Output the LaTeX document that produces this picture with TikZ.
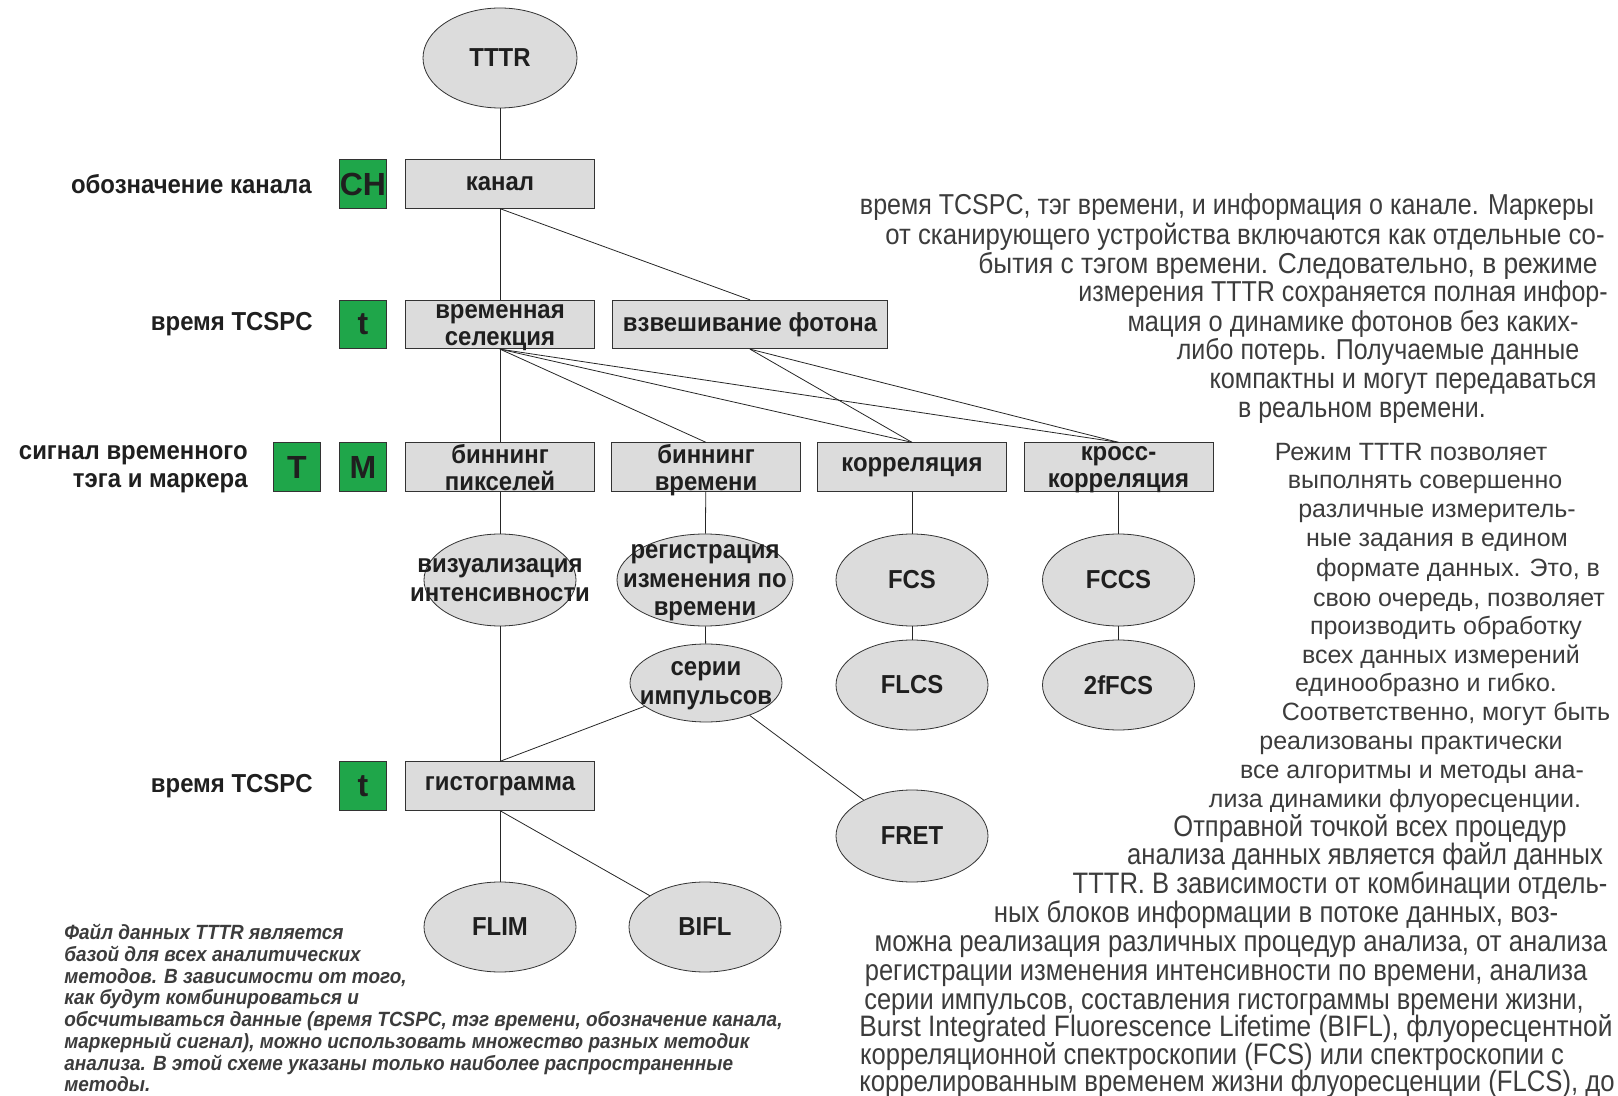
\documentclass[tikz,border=0pt]{standalone}
\usepackage{fontspec}
\usepackage{graphicx}
\setmainfont{Liberation Sans}
\newfontfamily\condfont[FakeStretch=0.92]{Liberation Sans}
\newfontfamily\narrowfont[FakeStretch=0.87]{Liberation Sans}
\usetikzlibrary{shapes.geometric}
\definecolor{boxgray}{RGB}{220,220,220}
\definecolor{taggreen}{RGB}{31,166,74}
\definecolor{txtgray}{RGB}{60,60,60}
\tikzset{
 box/.style={draw=black!80, fill=boxgray, minimum width=94.5pt, minimum height=24.25pt, inner sep=0pt, align=center, text=black!88, font=\condfont\bfseries\fontsize{13}{13.5}\selectfont},
 oval/.style={ellipse, draw=black!80, fill=boxgray, inner sep=0pt, align=center, text=black!88, font=\condfont\bfseries\fontsize{13}{14.2}\selectfont},
 tall/.style={execute at begin node={\rule{0pt}{#1}}, text depth=0pt},
 tall/.default=9.6pt,
 tagbox/.style={draw=black!80, fill=taggreen, minimum width=23.75pt, minimum height=24.25pt, inner sep=0pt, text=black!88, font=\bfseries\fontsize{16}{16}\selectfont},
 side/.style={anchor=east, align=right, inner sep=0pt, text=black!88, font=\condfont\bfseries\fontsize{13}{14}\selectfont},
 link/.style={black!85, line width=0.4pt},
 para/.style={anchor=base, inner sep=0pt, text=txtgray, font=\fontsize{12.5}{14}\selectfont},
}
\begin{document}
\begin{tikzpicture}[x=0.5pt, y=-0.5pt]
\useasboundingbox (0,0) rectangle (1618,1096);
\clip (0,0) rectangle (1618,1096);
% left column: tags
\node[side] (lchan) at (312,184) {обозначение канала};
\node[tagbox] (tch) at (363,184) {CH};
\node[side] (ltime) at (313,324) {время TCSPC};
\node[tagbox] (tt1) at (363,324.5) {t};
\node[side] (lmark) at (248,469) {сигнал временного\\тэга и маркера};
\node[tagbox] (tbig) at (297,467) {T};
\node[tagbox] (tm) at (363,467) {M};
\node[side] (ltime2) at (313,786) {время TCSPC};
\node[tagbox] (tt2) at (363,786) {t};

% tree
\node[oval, minimum width=77pt, minimum height=50pt] (tttr) at (500,58) {TTTR};
\node[box] (kanal) at (500,184) {канал};
\node[box, tall] (vrem) at (500,324.5) {временная\\селекция};
\node[box, minimum width=137.75pt] (vzv) at (750,324.5) {взвешивание фотона};
\node[box, tall] (binpx) at (500,467) {биннинг\\пикселей};
\node[box, tall] (bintm) at (706,467) {биннинг\\времени};
\node[box] (corr) at (912,467) {корреляция};
\node[box, tall=8pt] (xcorr) at (1118.5,467) {кросс-\\корреляция};
\node[oval, minimum width=76pt, minimum height=46pt, inner xsep=-20pt] (vis) at (500,580) {визуализация\\интенсивности};
\node[oval, tall=12pt, minimum width=88pt, minimum height=46pt, inner xsep=-20pt, inner ysep=-12pt] (reg) at (705,580) {регистрация\\изменения по\\времени};
\node[oval, minimum width=76pt, minimum height=46pt] (fcs) at (912,580) {FCS};
\node[oval, minimum width=76pt, minimum height=46pt] (fccs) at (1118.5,580) {FCCS};
\node[oval, tall, minimum width=76pt, minimum height=39pt, inner xsep=-20pt, inner ysep=-6pt] (serii) at (706,683) {серии\\импульсов};
\node[oval, minimum width=76pt, minimum height=45pt] (flcs) at (912,685) {FLCS};
\node[oval, minimum width=76pt, minimum height=45pt] (ffcs) at (1118.5,685) {2fFCS};
\node[box] (hist) at (500,786) {гистограмма};
\node[oval, minimum width=76pt, minimum height=46pt] (fret) at (912,836) {FRET};
\node[oval, minimum width=76pt, minimum height=45pt] (flim) at (500,927) {FLIM};
\node[oval, minimum width=76pt, minimum height=45pt] (bifl) at (705,927) {BIFL};

\draw[link] (tttr) -- (kanal);
\draw[link] (kanal) -- (vrem);
\draw[link] (kanal.south) -- (vzv.north);
\draw[link] (vrem) -- (binpx);
\foreach \n in {bintm, corr, xcorr}
 \draw[link] (vrem.south) -- (\n.north);
\foreach \n in {corr, xcorr}
 \draw[link] (vzv.south) -- (\n.north);
\draw[link] (binpx) -- (vis);
\draw[link] (vis) -- (hist);
\draw[link] (hist) -- (flim);
\draw[link] (hist.south) -- (bifl);
\draw[link] (bintm) -- (reg);
\draw[link] (reg) -- (serii);
\draw[link] (serii) -- (hist.north);
\draw[link] (serii) -- (fret);
\draw[link] (corr) -- (fcs);
\draw[link] (fcs) -- (flcs);
\draw[link] (xcorr) -- (fccs);
\draw[link] (fccs) -- (ffcs);

% note, bottom left
\node[anchor=north west, align=left, inner sep=0pt, text=txtgray, font=\condfont\bfseries\itshape\fontsize{10.3}{10.85}\selectfont] (note) at (64,924)
 {Файл данных TTTR является\\
 базой для всех аналитических\\
 методов. В зависимости от того,\\
 как будут комбинироваться и\\
 обсчитываться данные (время TCSPC, тэг времени, обозначение канала,\\
 маркерный сигнал), можно использовать множество разных методик\\
 анализа. В этой схеме указаны только наиболее распространенные\\
 методы.};

% text on the right, each line squeezed to its width
\foreach \x/\y/\w/\s [count=\i] in {
 1227/215/367pt/{время TCSPC, тэг времени, и информация о канале. Маркеры},
 1245/245/359.6pt/{от сканирующего устройства включаются как отдельные со-},
 1288/274/309.6pt/{бытия с тэгом времени. Следовательно, в режиме},
 1343/302/264.7pt/{измерения TTTR сохраняется полная инфор-},
 1353/332/225.5pt/{мация о динамике фотонов без каких-},
 1378/360/201.2pt/{либо потерь. Получаемые данные},
 1403/389/193.5pt/{компактны и могут передаваться},
 1362/418/123.8pt/{в реальном времени.}}
 \node[para, font=\narrowfont\fontsize{14.4}{14}\selectfont] (pa\i) at (\x,\y) {\resizebox{\w}{\height}{\s}};
\foreach \x/\y/\s [count=\i] in {
 1411/461/{Режим TTTR позволяет},
 1425/489/{выполнять совершенно},
 1437/518/{различные измеритель-},
 1437/547/{ные задания в едином},
 1458/576/{формате данных. Это, в},
 1459/606/{свою очередь, позволяет},
 1446/634/{производить обработку},
 1441/663/{всех данных измерений},
 1426/691/{единообразно и гибко.},
 1446/720/{Соответственно, могут быть},
 1411/749/{реализованы практически},
 1412/778/{все алгоритмы и методы ана-},
 1395/807/{лиза динамики флуоресценции.}}
 \node[para] (pb\i) at (\x,\y) {\s};
\foreach \x/\y/\w/\s [count=\i] in {
 1370/836/196.6pt/{Отправной точкой всех процедур},
 1365/864/237.9pt/{анализа данных является файл данных},
 1340/893/267.3pt/{TTTR. В зависимости от комбинации отдель-},
 1276/922/282.2pt/{ных блоков информации в потоке данных, воз-},
 1241/951/366.3pt/{можна реализация различных процедур анализа, от анализа},
 1226/980/361.2pt/{регистрации изменения интенсивности по времени, анализа},
 1224/1009/359.6pt/{серии импульсов, составления гистограммы времени жизни,},
 1236/1036/376.6pt/{Burst Integrated Fluorescence Lifetime (BIFL), флуоресцентной},
 1212/1064/351.9pt/{корреляционной спектроскопии (FCS) или спектроскопии с},
 1237/1091/377.7pt/{коррелированным временем жизни флуоресценции (FLCS), до}}
 \node[para, font=\narrowfont\fontsize{14.8}{14}\selectfont] (pc\i) at (\x,\y) {\resizebox{\w}{\height}{\s}};
\end{tikzpicture}
\end{document}
